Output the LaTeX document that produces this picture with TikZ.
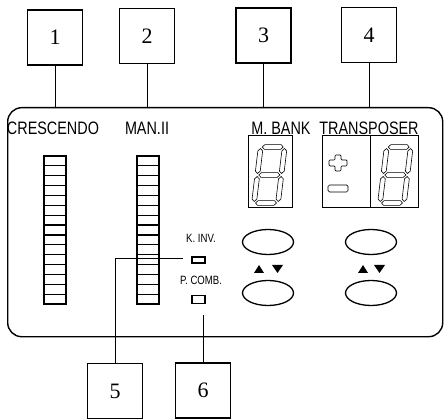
\documentclass[tikz,border=0pt]{standalone}
\usepackage{fontspec}
\setmainfont{Liberation Serif}
\newfontfamily\lab[FakeStretch=0.8]{Liberation Sans}
\usetikzlibrary{shapes.geometric}
\newcommand\hseg[3]{\draw (#1+0,#3) -- (#1+2.4,#3+2.4) -- (#2-2.4,#3+2.4) -- (#2,#3) -- (#2-2.4,#3-2.4) -- (#1+2.4,#3-2.4) -- cycle;}
\newcommand\vseg[3]{\draw (#1,#2) -- (#1+2.4,#2+2.4) -- (#1+2.4,#3-2.4) -- (#1,#3) -- (#1-2.4,#3-2.4) -- (#1-2.4,#2+2.4) -- cycle;}
\newcommand\sevenseg[1]{\begin{scope}[shift={#1},x=1pt,y=1pt,xslant=0.12,line width=0.6pt]
 \hseg{1.5}{22.5}{0}\hseg{1.5}{22.5}{28}\hseg{1.5}{22.5}{56}
 \vseg{0}{1.5}{26.5}\vseg{0}{29.5}{54.5}\vseg{24}{1.5}{26.5}\vseg{24}{29.5}{54.5}
\end{scope}}
\tikzset{
 numbox/.style={draw, line width=1.2pt, minimum size=55pt, inner sep=0pt, font=\fontsize{22}{22}\selectfont},
 lbl/.style={inner sep=0pt, font=\lab\fontsize{18}{18}\selectfont},
 smalllbl/.style={inner sep=0pt, font=\lab\fontsize{12}{12}\selectfont},
 conn/.style={line width=1pt},
 btn/.style={ellipse, draw, line width=1.3pt, minimum width=51pt, minimum height=25pt, inner sep=0pt},
 led/.style={draw, line width=1.2pt, minimum width=13pt, inner sep=0pt},
 disp/.style={draw, line width=1pt, minimum height=72pt, inner sep=0pt},
 seg/.style={line width=1.2pt}
}
\begin{document}
\begin{tikzpicture}[x=1pt,y=-1pt]
\useasboundingbox (0,0) rectangle (444,419);
% number boxes
\node[numbox] (b1) at (55,37.5) {1};
\node[numbox] (b2) at (147,36) {2};
\node[numbox] (b3) at (263.5,35.5) {3};
\node[numbox] (b4) at (369,35) {4};
\node[numbox] (b5) at (115,391) {5};
\node[numbox] (b6) at (203,390.5) {6};
% panel
\node[draw, line width=1.4pt, rounded corners=14pt, minimum width=435pt, minimum height=229pt, anchor=north west, inner sep=0pt] (panel) at (7,107) {};
\draw[conn] (b1.south) -- (b1.south |- panel.north);
\draw[conn] (b2.south) -- (b2.south |- panel.north);
\draw[conn] (b3.south) -- (b3.south |- panel.north);
\draw[conn] (b4.south) -- (b4.south |- panel.north);
% labels
\node[lbl] (cre) at (53,128) {CRESCENDO};
\node[lbl] (man) at (147,128) {MAN.II};
\node[lbl] (mb) at (281,128) {M. BANK};
\node[lbl] (tr) at (369,128) {TRANSPOSER};
% bars
\foreach \x in {44,137} {
  \foreach \i in {0,...,14} {
    \draw[seg] (\x,156+\i*9.87) rectangle ++(22,9.87);
  }
}
% displays
\node[disp, minimum width=44pt] (mbd) at (270,172) {};
\node[disp, minimum width=96pt] (trd) at (370,172) {};
\draw[line width=1pt] (trd.north) -- (trd.south);
\sevenseg{(254,203)}
\sevenseg{(380,203)}
\draw[line width=0.7pt, rounded corners=1pt] (335,155) -- (341,155) -- (341,160) -- (347,160) -- (347,166) -- (341,166) -- (341,171) -- (335,171) -- (335,166) -- (329,166) -- (329,160) -- (335,160) -- cycle;
\draw[line width=0.7pt, rounded corners=1.5pt] (328,185) rectangle (348,192);
% small leds
\node[smalllbl] (kinv) at (201,238) {K. INV.};
\node[smalllbl] (pcomb) at (201,280) {P. COMB.};
\node[led, minimum height=6pt] (kr) at (198.5,260) {};
\node[led, minimum height=8pt] (pr) at (198.5,299.5) {};
\coordinate (k5) at (183,259);
\coordinate (p6) at (203,315);
\draw[conn] (k5) -- (k5 -| b5.north) -- (b5.north);
\draw[conn] (p6) -- (b6.north);
% buttons
\node[btn] (u1) at (268,242) {};
\node[btn] (d1) at (268,293) {};
\node[btn] (u2) at (371,242) {};
\node[btn] (d2) at (371,293) {};
\fill (254,273) -- (264,273) -- (259,265) -- cycle;
\fill (272,265) -- (283,265) -- (277.5,273) -- cycle;
\fill (358,273) -- (368,273) -- (363,265) -- cycle;
\fill (374,265) -- (385,265) -- (379.5,273) -- cycle;
\end{tikzpicture}
\end{document}
